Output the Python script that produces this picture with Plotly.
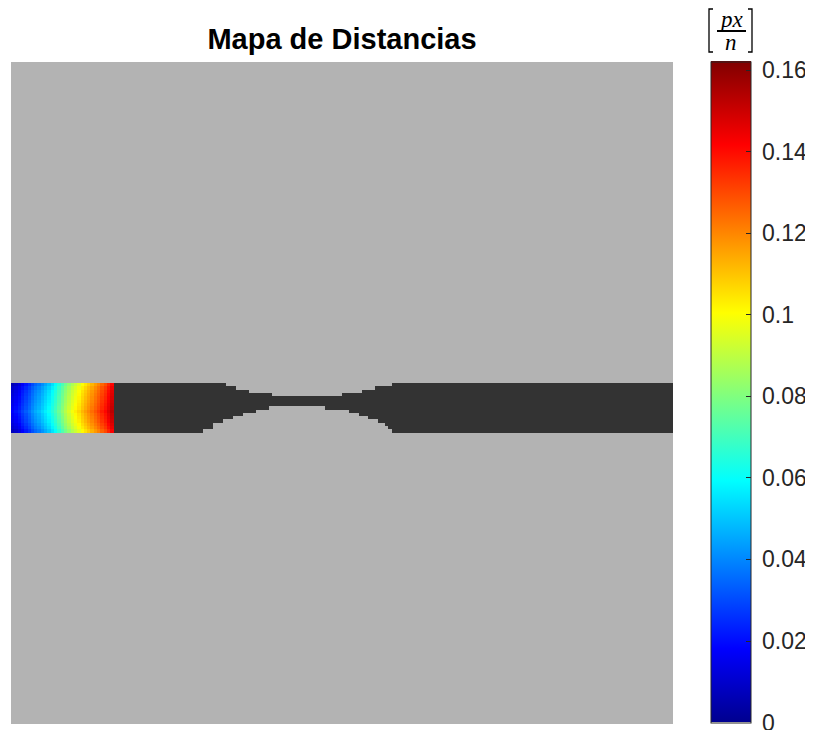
import numpy as np
import plotly.graph_objects as go

N = 200
chan_rows = (97, 111)          # channel rows (top, bottom), image row index
color_cols = 31                # columns 0..30 carry the distance values

# distance values per column (middle rows) and per-row offsets
col_vals = [0.016, 0.019, 0.022, 0.027, 0.031, 0.035, 0.040, 0.044, 0.047, 0.051,
            0.055, 0.059, 0.064, 0.069, 0.075, 0.081, 0.087, 0.092, 0.097, 0.101,
            0.105, 0.110, 0.114, 0.118, 0.122, 0.126, 0.130, 0.135, 0.139, 0.145,
            0.151]
row_offs = [-0.010, -0.007, -0.005, -0.004, -0.003, -0.002, -0.001, 0.0, 0.002,
            0.0, -0.001, -0.002, -0.004, -0.006, -0.009]

# constriction profile, columns 56..116
neck_start = 56
neck_top = ([97]*9 + [98]*3 + [99]*4 + [100]*7 + [101]*21 + [100]*6 + [99]*4 +
            [98]*5 + [97]*2)
neck_bot = ([111]*2 + [110]*3 + [108]*3 + [107]*3 + [106]*3 + [105]*4 + [104]*4 +
            [103]*17 + [104]*7 + [105]*3 + [106]*3 + [107]*3 + [108]*2 + [109] +
            [110] + [111]*2)

cb_ticks = [0, 0.02, 0.04, 0.06, 0.08, 0.1, 0.12, 0.14, 0.16]
cb_text = ["0", "0.02", "0.04", "0.06", "0.08", "0.1", "0.12", "0.14", "0.16"]
cmax = 0.1622

# ---- build images ----
mask = np.zeros((N, N))
for c in range(N):
    t, b = chan_rows
    if neck_start <= c < neck_start + len(neck_top):
        t = neck_top[c - neck_start]
        b = neck_bot[c - neck_start]
    mask[t:b + 1, c] = 1

dist = np.full((N, N), np.nan)
for i, off in enumerate(row_offs):
    for c in range(color_cols):
        dist[chan_rows[0] + i, c] = col_vals[c] + off

jet = [[0.0, "rgb(0,0,143)"], [0.1111, "rgb(0,0,255)"], [0.3651, "rgb(0,255,255)"],
       [0.6190, "rgb(255,255,0)"], [0.8730, "rgb(255,0,0)"], [1.0, "rgb(128,0,0)"]]

# page body has an 8px margin; work in screenshot pixels and shift
OFF = 8
W, H = 813 - OFF, 738 - 2 * OFF
L, R, T, B = 11 - OFF, 673 - OFF, 62 - OFF, 724 - OFF
CB_TOP, CB_BOT = 61.5, 722.5     # colorbar extent in screenshot pixels


def px(x):
    return (x - OFF - L) / (R - L)


def py(y):
    return (B - (y - OFF)) / (B - T)


def cb_y(v):
    # paper y of a colorbar value
    return py(CB_BOT - v / cmax * (CB_BOT - CB_TOP))


fig = go.Figure()
fig.add_trace(go.Heatmap(z=mask, colorscale=[[0, "#b3b3b3"], [1, "#333333"]],
                         zmin=0, zmax=1, showscale=False, hoverinfo="skip"))
fig.add_trace(go.Heatmap(
    z=dist, colorscale=jet, zmin=0, zmax=cmax,
    colorbar=dict(
        thickness=40, thicknessmode="pixels", len=CB_BOT - CB_TOP, lenmode="pixels",
        x=px(711), xanchor="left", xpad=0, ypad=0,
        y=py((CB_TOP + CB_BOT) / 2), yanchor="middle",
        outlinewidth=1, outlinecolor="#262626",
        tickmode="array", tickvals=cb_ticks, showticklabels=False,
        ticks="inside", ticklen=5, tickcolor="#262626", tickwidth=1,
    )))

shapes = [
    dict(type="line", xref="paper", yref="paper", x0=px(717), x1=px(746),
         y0=py(31), y1=py(31), line=dict(color="black", width=2)),
    dict(type="path", xref="paper", yref="paper",
         path=f"M {px(713)},{py(9)} L {px(709)},{py(9)} L {px(709)},{py(52)} L {px(713)},{py(52)}",
         line=dict(color="black", width=1.3)),
    dict(type="path", xref="paper", yref="paper",
         path=f"M {px(748)},{py(9)} L {px(752)},{py(9)} L {px(752)},{py(52)} L {px(748)},{py(52)}",
         line=dict(color="black", width=1.3)),
]
annotations = [
    dict(text="<i>px</i>", x=px(731), y=py(20), xref="paper", yref="paper",
         xanchor="center", yanchor="middle", showarrow=False,
         font=dict(family="Liberation Serif", size=23, color="black")),
    dict(text="<i>n</i>", x=px(731), y=py(42), xref="paper", yref="paper",
         xanchor="center", yanchor="middle", showarrow=False,
         font=dict(family="Liberation Serif", size=23, color="black")),
]
for v, t in zip(cb_ticks, cb_text):
    annotations.append(dict(
        text=t, x=px(760), y=cb_y(v), xref="paper", yref="paper",
        xanchor="left", yanchor="middle", showarrow=False,
        font=dict(family="Liberation Sans", size=23, color="#262626")))

fig.update_layout(
    width=W, height=H,
    margin=dict(l=L, r=W - R, t=T, b=H - B),
    paper_bgcolor="white", plot_bgcolor="white",
    title=dict(text="<b>Mapa de Distancias</b>", x=px(342), xref="paper",
               y=1 - (39 - OFF) / H, yref="container", xanchor="center", yanchor="middle",
               font=dict(family="Liberation Sans", size=29, color="black")),
    xaxis=dict(visible=False, range=[-0.5, N - 0.5]),
    yaxis=dict(visible=False, range=[N - 0.5, -0.5]),
    shapes=shapes, annotations=annotations,
)

fig.write_html("out.html")
